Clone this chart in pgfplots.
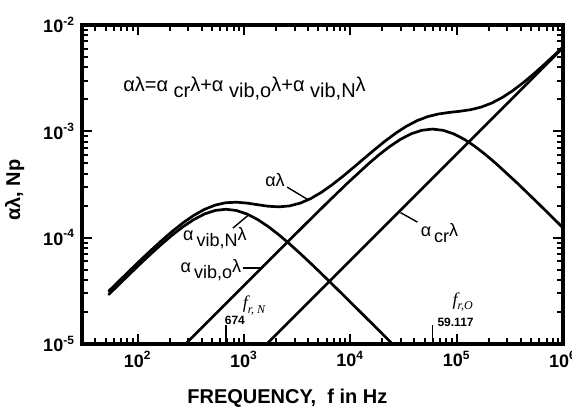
\documentclass[border=0pt]{standalone}
\usepackage{pgfplots}
\pgfplotsset{compat=1.18}
\usepackage{fontspec}
\setmainfont{Liberation Sans}
\newfontfamily\timesit{Liberation Serif}
\usetikzlibrary{calc}
% lowered subscript at text size, as in the scan
\newcommand{\lsub}[1]{\raisebox{-0.6ex}{#1}}

\begin{document}
\begin{tikzpicture}
\begin{axis}[
    name=ax,
    xmode=log, ymode=log,
    scale only axis,
    width=240.5pt, height=159.5pt,
    xmin=30, xmax=1e6,
    ymin=1e-5, ymax=1e-2,
    axis line style={line width=1.7pt},
    tick align=inside,
    major tick length=5pt,
    minor tick length=3pt,
    xtick={1e2,1e3,1e4,1e5,1e6},
    xticklabels={10\textsuperscript{2},10\textsuperscript{3},10\textsuperscript{4},10\textsuperscript{5},10\textsuperscript{6}},
    ytick={1e-5,1e-4,1e-3,1e-2},
    yticklabels={10\textsuperscript{-5},10\textsuperscript{-4},10\textsuperscript{-3},10\textsuperscript{-2}},
    ticklabel style={font=\bfseries\fontsize{9}{10}\selectfont},
    xlabel={FREQUENCY,\ \ f in Hz},
    ylabel={αλ, Np},
    label style={font=\bfseries\fontsize{10}{12}\selectfont},
    xlabel style={at={(axis description cs:0.427,-0.188)}, anchor=base},
    ylabel style={at={(axis description cs:-0.14,0.483)}, anchor=center},
]
% total
\addplot[black, mark=none, line width=1.35pt, line cap=round] coordinates {
(53.5,3.142e-5) (67.4,3.941e-5) (84.9,4.936e-5) (106.8,6.162e-5)
(134.5,7.656e-5) (169.3,9.443e-5) (213.1,1.1517e-4) (268.3,1.3824e-4)
(337.8,1.6217e-4) (425.3,1.8456e-4) (535.4,2.0234e-4) (674,2.1305e-4)
(848.5,2.1552e-4) (1068.2,2.1142e-4) (1344.8,2.0417e-4) (1693,1.9758e-4)
(2131,1.9498e-4) (2683,1.9894e-4) (3378,2.112e-4) (4253,2.3345e-4)
(5354,2.6716e-4) (6740,3.1412e-4) (8485,3.7633e-4) (10682,4.5593e-4)
(13448,5.548e-4) (16930,6.739e-4) (21314,8.119e-4) (26832,9.634e-4)
(33780,1.1180e-3) (42530,1.2609e-3) (53540,1.3762e-3) (67400,1.4560e-3)
(84850,1.5055e-3) (106820,1.5436e-3) (134480,1.5957e-3) (169300,1.6878e-3)
(213140,1.8421e-3) (268320,2.0789e-3) (337800,2.4178e-3) (425300,2.8813e-3)
(535400,3.4955e-3) (674000,4.2945e-3) (848500,5.3218e-3) (1000000,6.224e-3)
};
% vib, N
\addplot[black, mark=none, line width=1.35pt, line cap=round] coordinates {
(53.5,2.921e-5) (67.4,3.663e-5) (84.9,4.585e-5) (106.8,5.720e-5)
(134.5,7.100e-5) (169.3,8.743e-5) (213.1,1.0636e-4) (268.3,1.2715e-4)
(337.8,1.4821e-4) (425.3,1.6698e-4) (535.4,1.8021e-4) (674,1.85e-4)
(848.5,1.8021e-4) (1068.2,1.6698e-4) (1344.8,1.4821e-4) (1693,1.2715e-4)
(2131,1.0636e-4) (2683,8.743e-5) (3378,7.100e-5) (4253,5.720e-5)
(5354,4.585e-5) (6740,3.663e-5) (8485,2.921e-5) (10682,2.325e-5)
(13448,1.850e-5) (16930,1.471e-5) (21314,1.169e-5) (26832,9.288e-6)
};
% vib, O
\addplot[black, mark=none, line width=1.35pt] coordinates {
(235.3,8.36e-6) (591.2,2.0998e-5) (1485,5.272e-5) (3730,1.3198e-4)
(5912,2.0792e-4) (9370,3.2468e-4) (14850,4.9620e-4) (18695,6.0369e-4)
(23535,7.2165e-4) (29629,8.4121e-4) (37300,9.4774e-4) (46958,1.02279e-3)
(59117,1.05e-3) (74424,1.02279e-3) (93695,9.4774e-4) (117955,8.4121e-4)
(148496,7.2165e-4) (186945,6.0369e-4) (235350,4.9620e-4) (373000,3.2468e-4)
(591170,2.0792e-4) (1000000,1.2370e-4)
};
% classical + rotational
\addplot[black, mark=none, line width=1.35pt] coordinates {(1639,1e-5) (1000000,6.1e-3)};

% major ticks, pointing inwards
\draw[line width=1pt]
  (axis cs:100,1e-5)--(axis cs:100,1.24e-5) (axis cs:1000,1e-5)--(axis cs:1000,1.24e-5)
  (axis cs:10000,1e-5)--(axis cs:10000,1.24e-5) (axis cs:100000,1e-5)--(axis cs:100000,1.24e-5)
  (axis cs:100,1e-2)--(axis cs:100,8.06e-3) (axis cs:1000,1e-2)--(axis cs:1000,8.06e-3)
  (axis cs:10000,1e-2)--(axis cs:10000,8.06e-3) (axis cs:100000,1e-2)--(axis cs:100000,8.06e-3)
  (axis cs:30,1e-4)--(axis cs:37.3,1e-4) (axis cs:30,1e-3)--(axis cs:37.3,1e-3)
  (axis cs:1e6,1e-4)--(axis cs:8.045e5,1e-4) (axis cs:1e6,1e-3)--(axis cs:8.045e5,1e-3);
% minor ticks, bottom
\draw[line width=1pt]
  (axis cs:40,1e-5)--(axis cs:40,1.138e-5) (axis cs:50,1e-5)--(axis cs:50,1.138e-5)
  (axis cs:60,1e-5)--(axis cs:60,1.138e-5) (axis cs:70,1e-5)--(axis cs:70,1.138e-5)
  (axis cs:80,1e-5)--(axis cs:80,1.138e-5) (axis cs:90,1e-5)--(axis cs:90,1.138e-5)
  (axis cs:200,1e-5)--(axis cs:200,1.138e-5) (axis cs:300,1e-5)--(axis cs:300,1.138e-5)
  (axis cs:400,1e-5)--(axis cs:400,1.138e-5) (axis cs:500,1e-5)--(axis cs:500,1.138e-5)
  (axis cs:600,1e-5)--(axis cs:600,1.138e-5) (axis cs:700,1e-5)--(axis cs:700,1.138e-5)
  (axis cs:800,1e-5)--(axis cs:800,1.138e-5) (axis cs:900,1e-5)--(axis cs:900,1.138e-5)
  (axis cs:2000,1e-5)--(axis cs:2000,1.138e-5) (axis cs:3000,1e-5)--(axis cs:3000,1.138e-5)
  (axis cs:4000,1e-5)--(axis cs:4000,1.138e-5) (axis cs:5000,1e-5)--(axis cs:5000,1.138e-5)
  (axis cs:6000,1e-5)--(axis cs:6000,1.138e-5) (axis cs:7000,1e-5)--(axis cs:7000,1.138e-5)
  (axis cs:8000,1e-5)--(axis cs:8000,1.138e-5) (axis cs:9000,1e-5)--(axis cs:9000,1.138e-5)
  (axis cs:20000,1e-5)--(axis cs:20000,1.138e-5) (axis cs:30000,1e-5)--(axis cs:30000,1.138e-5)
  (axis cs:40000,1e-5)--(axis cs:40000,1.138e-5) (axis cs:50000,1e-5)--(axis cs:50000,1.138e-5)
  (axis cs:60000,1e-5)--(axis cs:60000,1.138e-5) (axis cs:70000,1e-5)--(axis cs:70000,1.138e-5)
  (axis cs:80000,1e-5)--(axis cs:80000,1.138e-5) (axis cs:90000,1e-5)--(axis cs:90000,1.138e-5)
  (axis cs:200000,1e-5)--(axis cs:200000,1.138e-5) (axis cs:300000,1e-5)--(axis cs:300000,1.138e-5)
  (axis cs:400000,1e-5)--(axis cs:400000,1.138e-5) (axis cs:500000,1e-5)--(axis cs:500000,1.138e-5)
  (axis cs:600000,1e-5)--(axis cs:600000,1.138e-5) (axis cs:700000,1e-5)--(axis cs:700000,1.138e-5)
  (axis cs:800000,1e-5)--(axis cs:800000,1.138e-5) (axis cs:900000,1e-5)--(axis cs:900000,1.138e-5);
% minor ticks, top
\draw[line width=1pt]
  (axis cs:40,1e-2)--(axis cs:40,8.79e-3) (axis cs:50,1e-2)--(axis cs:50,8.79e-3)
  (axis cs:60,1e-2)--(axis cs:60,8.79e-3) (axis cs:70,1e-2)--(axis cs:70,8.79e-3)
  (axis cs:80,1e-2)--(axis cs:80,8.79e-3) (axis cs:90,1e-2)--(axis cs:90,8.79e-3)
  (axis cs:200,1e-2)--(axis cs:200,8.79e-3) (axis cs:300,1e-2)--(axis cs:300,8.79e-3)
  (axis cs:400,1e-2)--(axis cs:400,8.79e-3) (axis cs:500,1e-2)--(axis cs:500,8.79e-3)
  (axis cs:600,1e-2)--(axis cs:600,8.79e-3) (axis cs:700,1e-2)--(axis cs:700,8.79e-3)
  (axis cs:800,1e-2)--(axis cs:800,8.79e-3) (axis cs:900,1e-2)--(axis cs:900,8.79e-3)
  (axis cs:2000,1e-2)--(axis cs:2000,8.79e-3) (axis cs:3000,1e-2)--(axis cs:3000,8.79e-3)
  (axis cs:4000,1e-2)--(axis cs:4000,8.79e-3) (axis cs:5000,1e-2)--(axis cs:5000,8.79e-3)
  (axis cs:6000,1e-2)--(axis cs:6000,8.79e-3) (axis cs:7000,1e-2)--(axis cs:7000,8.79e-3)
  (axis cs:8000,1e-2)--(axis cs:8000,8.79e-3) (axis cs:9000,1e-2)--(axis cs:9000,8.79e-3)
  (axis cs:20000,1e-2)--(axis cs:20000,8.79e-3) (axis cs:30000,1e-2)--(axis cs:30000,8.79e-3)
  (axis cs:40000,1e-2)--(axis cs:40000,8.79e-3) (axis cs:50000,1e-2)--(axis cs:50000,8.79e-3)
  (axis cs:60000,1e-2)--(axis cs:60000,8.79e-3) (axis cs:70000,1e-2)--(axis cs:70000,8.79e-3)
  (axis cs:80000,1e-2)--(axis cs:80000,8.79e-3) (axis cs:90000,1e-2)--(axis cs:90000,8.79e-3)
  (axis cs:200000,1e-2)--(axis cs:200000,8.79e-3) (axis cs:300000,1e-2)--(axis cs:300000,8.79e-3)
  (axis cs:400000,1e-2)--(axis cs:400000,8.79e-3) (axis cs:500000,1e-2)--(axis cs:500000,8.79e-3)
  (axis cs:600000,1e-2)--(axis cs:600000,8.79e-3) (axis cs:700000,1e-2)--(axis cs:700000,8.79e-3)
  (axis cs:800000,1e-2)--(axis cs:800000,8.79e-3) (axis cs:900000,1e-2)--(axis cs:900000,8.79e-3);
% minor ticks, left and right
\draw[line width=1pt]
  (axis cs:30,2e-5)--(axis cs:34.2,2e-5) (axis cs:30,3e-5)--(axis cs:34.2,3e-5)
  (axis cs:30,4e-5)--(axis cs:34.2,4e-5) (axis cs:30,5e-5)--(axis cs:34.2,5e-5)
  (axis cs:30,6e-5)--(axis cs:34.2,6e-5) (axis cs:30,7e-5)--(axis cs:34.2,7e-5)
  (axis cs:30,8e-5)--(axis cs:34.2,8e-5) (axis cs:30,9e-5)--(axis cs:34.2,9e-5)
  (axis cs:30,2e-4)--(axis cs:34.2,2e-4) (axis cs:30,3e-4)--(axis cs:34.2,3e-4)
  (axis cs:30,4e-4)--(axis cs:34.2,4e-4) (axis cs:30,5e-4)--(axis cs:34.2,5e-4)
  (axis cs:30,6e-4)--(axis cs:34.2,6e-4) (axis cs:30,7e-4)--(axis cs:34.2,7e-4)
  (axis cs:30,8e-4)--(axis cs:34.2,8e-4) (axis cs:30,9e-4)--(axis cs:34.2,9e-4)
  (axis cs:30,2e-3)--(axis cs:34.2,2e-3) (axis cs:30,3e-3)--(axis cs:34.2,3e-3)
  (axis cs:30,4e-3)--(axis cs:34.2,4e-3) (axis cs:30,5e-3)--(axis cs:34.2,5e-3)
  (axis cs:30,6e-3)--(axis cs:34.2,6e-3) (axis cs:30,7e-3)--(axis cs:34.2,7e-3)
  (axis cs:30,8e-3)--(axis cs:34.2,8e-3) (axis cs:30,9e-3)--(axis cs:34.2,9e-3)
  (axis cs:1e6,2e-5)--(axis cs:8.78e5,2e-5) (axis cs:1e6,3e-5)--(axis cs:8.78e5,3e-5)
  (axis cs:1e6,4e-5)--(axis cs:8.78e5,4e-5) (axis cs:1e6,5e-5)--(axis cs:8.78e5,5e-5)
  (axis cs:1e6,6e-5)--(axis cs:8.78e5,6e-5) (axis cs:1e6,7e-5)--(axis cs:8.78e5,7e-5)
  (axis cs:1e6,8e-5)--(axis cs:8.78e5,8e-5) (axis cs:1e6,9e-5)--(axis cs:8.78e5,9e-5)
  (axis cs:1e6,2e-4)--(axis cs:8.78e5,2e-4) (axis cs:1e6,3e-4)--(axis cs:8.78e5,3e-4)
  (axis cs:1e6,4e-4)--(axis cs:8.78e5,4e-4) (axis cs:1e6,5e-4)--(axis cs:8.78e5,5e-4)
  (axis cs:1e6,6e-4)--(axis cs:8.78e5,6e-4) (axis cs:1e6,7e-4)--(axis cs:8.78e5,7e-4)
  (axis cs:1e6,8e-4)--(axis cs:8.78e5,8e-4) (axis cs:1e6,9e-4)--(axis cs:8.78e5,9e-4)
  (axis cs:1e6,2e-3)--(axis cs:8.78e5,2e-3) (axis cs:1e6,3e-3)--(axis cs:8.78e5,3e-3)
  (axis cs:1e6,4e-3)--(axis cs:8.78e5,4e-3) (axis cs:1e6,5e-3)--(axis cs:8.78e5,5e-3)
  (axis cs:1e6,6e-3)--(axis cs:8.78e5,6e-3) (axis cs:1e6,7e-3)--(axis cs:8.78e5,7e-3)
  (axis cs:1e6,8e-3)--(axis cs:8.78e5,8e-3) (axis cs:1e6,9e-3)--(axis cs:8.78e5,9e-3);

% relaxation frequency markers
\draw[line width=0.8pt] (axis cs:674,1e-5) -- (axis cs:674,1.5e-5);
\draw[line width=0.8pt] (axis cs:59117,1e-5) -- (axis cs:59117,1.5e-5);
\node[font=\fontsize{6}{7}\selectfont\bfseries] at (axis cs:822,1.68e-5) {674};
\node[font=\fontsize{6}{7}\selectfont\bfseries] at (axis cs:97700,1.61e-5) {59.117};
\node[font=\fontsize{9}{10}\selectfont] at (axis cs:1242,2.28e-5) {\timesit\itshape f\lsub{\fontsize{6}{7}\selectfont r, N}};
\node[font=\fontsize{9}{10}\selectfont] at (axis cs:114000,2.48e-5) {\timesit\itshape f\lsub{\fontsize{6}{7}\selectfont r,O}};

% curve labels
\node[anchor=west, inner sep=0pt, font=\fontsize{10}{11}\selectfont]
  at (rel axis cs:0.085,0.80) {αλ=α\ \lsub{cr}λ+α\ \lsub{vib,o}λ+α\ \lsub{vib,N}λ};
\begin{scope}[every node/.style={font=\fontsize{9}{10}\selectfont}]
\node at (axis cs:1960,3.48e-4) {αλ};
\draw[line width=0.7pt] (axis cs:2547,2.99e-4) -- (axis cs:4018,2.27e-4);
\node at (axis cs:532,9.9e-5) {α\,\lsub{vib,N}λ};
\draw[line width=0.7pt] (axis cs:787,1.23e-4) -- (axis cs:1100,1.63e-4);
\node at (axis cs:489,4.96e-5) {α\,\lsub{vib,o}λ};
\draw[line width=0.7pt] (axis cs:977,5.18e-5) -- (axis cs:1460,5.18e-5);
\node at (axis cs:69000,1.10e-4) {α\,\lsub{cr}λ};
\draw[line width=0.7pt] (axis cs:29650,1.72e-4) -- (axis cs:42850,1.40e-4);
\end{scope}
\end{axis}
\pgfresetboundingbox
\path[use as bounding box] ($(ax.south west)+(-41pt,-32pt)$) rectangle ($(ax.south west)+(245pt,172pt)$);
\end{tikzpicture}
\end{document}
